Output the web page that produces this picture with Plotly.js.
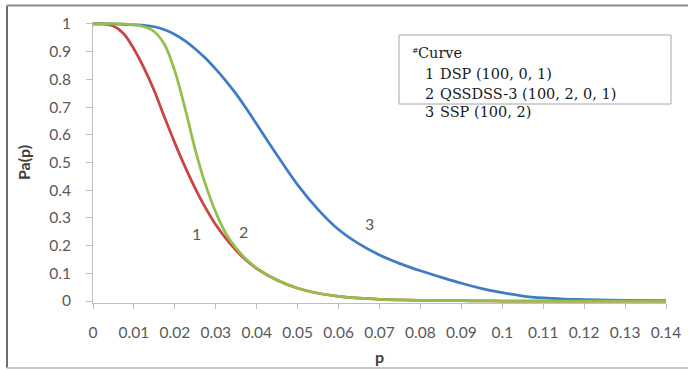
<!DOCTYPE html>
<html>
<head>
<meta charset="utf-8">
<script src="https://cdn.plot.ly/plotly-3.0.1.min.js"></script>
<style>
  html, body { margin: 0; padding: 0; background: #ffffff; }
  #chart { width: 688px; height: 371px; }
</style>
</head>
<body>
<div id="chart"></div>
<script>
// ---- data ----
var pValues = [0, 0.0025, 0.005, 0.0075, 0.01, 0.0125, 0.015, 0.0175, 0.02, 0.0225,
  0.025, 0.0275, 0.03, 0.0325, 0.035, 0.0375, 0.04, 0.045, 0.05, 0.055,
  0.06, 0.065, 0.07, 0.075, 0.08, 0.085, 0.09, 0.095, 0.1, 0.105,
  0.11, 0.115, 0.12, 0.13, 0.14];

// Curve 1: DSP (100, 0, 1)
var paDSP = [1, 1, 0.993, 0.965, 0.91, 0.84, 0.758, 0.662, 0.57, 0.484,
  0.406, 0.336, 0.275, 0.225, 0.182, 0.146, 0.117, 0.075, 0.046, 0.028,
  0.017, 0.01, 0.006, 0.004, 0.0025, 0.0015, 0.001, 0.0005, 0, 0,
  0, 0, 0, 0, 0];

// Curve 2: QSSDSS-3 (100, 2, 0, 1)
var paQSS = [1, 1, 1, 1, 0.998, 0.99, 0.972, 0.925, 0.83, 0.695,
  0.545, 0.42, 0.32, 0.243, 0.19, 0.15, 0.119, 0.076, 0.046, 0.028,
  0.017, 0.01, 0.006, 0.004, 0.0025, 0.0015, 0.001, 0.0005, 0, 0,
  0, 0, 0, 0, 0];

// Curve 3: SSP (100, 2)
var paSSP = [1, 1, 1, 0.999, 0.997, 0.995, 0.99, 0.979, 0.962, 0.939,
  0.91, 0.876, 0.837, 0.794, 0.747, 0.694, 0.638, 0.526, 0.419, 0.33,
  0.258, 0.206, 0.166, 0.135, 0.109, 0.086, 0.064, 0.045, 0.03, 0.018,
  0.011, 0.007, 0.005, 0.002, 0.001];

var xTickVals = [0, 0.01, 0.02, 0.03, 0.04, 0.05, 0.06, 0.07, 0.08, 0.09, 0.1, 0.11, 0.12, 0.13, 0.14];
var xTickText = ["0", "0.01", "0.02", "0.03", "0.04", "0.05", "0.06", "0.07", "0.08", "0.09", "0.1", "0.11", "0.12", "0.13", "0.14"];
var yTickVals = [0, 0.1, 0.2, 0.3, 0.4, 0.5, 0.6, 0.7, 0.8, 0.9, 1];
var yTickText = ["0", "0.1", "0.2", "0.3", "0.4", "0.5", "0.6", "0.7", "0.8", "0.9", "1"];

var curveNumbers = ["1", "2", "3"];
var curveLabels = ["DSP (100, 0, 1)", "QSSDSS-3 (100, 2, 0, 1)", "SSP (100, 2)"];
var legendHeader = "Curve";
// label positions on the chart (p, Pa)
var labelP = [0.0252, 0.0368, 0.0676];
var labelPa = [0.244, 0.25, 0.28];

// ---- layout helpers ----
var W = 688, H = 371;
var M = {l: 93, r: 22, t: 22, b: 68};
var plotW = W - M.l - M.r, plotH = H - M.t - M.b;
function px(x) { return (x - M.l) / plotW; }
function py(y) { return (M.t + plotH - y) / plotH; }

var RED = '#c94444', GREEN = '#93bf4b', BLUE = '#3f7cc4';
var GRAY_TXT = '#595959';

function curve(y, color, name) {
  return {
    x: pValues, y: y, type: 'scatter', mode: 'lines', name: name,
    line: {color: color, width: 2.75, shape: 'spline', smoothing: 1},
    hoverinfo: 'skip'
  };
}

var traces = [
  curve(paDSP, RED, curveLabels[0]),
  curve(paSSP, BLUE, curveLabels[2]),
  curve(paQSS, GREEN, curveLabels[1])
];

var annotations = [];
for (var i = 0; i < 3; i++) {
  annotations.push({
    x: labelP[i], y: labelPa[i], xref: 'x', yref: 'y', text: curveNumbers[i],
    showarrow: false, font: {family: 'Lato', size: 16, color: GRAY_TXT}
  });
}
var serif = {family: 'DejaVu Serif', size: 14.5, color: '#1a1a1a'};
annotations.push({x: px(410), y: py(50), xref: 'paper', yref: 'paper', xanchor: 'left', yanchor: 'middle',
  text: '#', showarrow: false, font: {family: 'DejaVu Serif', size: 8, color: '#1a1a1a'}});
annotations.push({x: px(416), y: py(53), xref: 'paper', yref: 'paper', xanchor: 'left', yanchor: 'middle',
  text: legendHeader, showarrow: false, font: serif});
var rowY = [73.5, 93.5, 112];
for (var j = 0; j < 3; j++) {
  annotations.push({x: px(423), y: py(rowY[j]), xref: 'paper', yref: 'paper', xanchor: 'left', yanchor: 'middle',
    text: curveNumbers[j], showarrow: false, font: serif});
  annotations.push({x: px(438), y: py(rowY[j]), xref: 'paper', yref: 'paper', xanchor: 'left', yanchor: 'middle',
    text: curveLabels[j], showarrow: false, font: serif});
}

var shapes = [
  // legend box
  {type: 'rect', xref: 'paper', yref: 'paper', x0: px(399), x1: px(671), y0: py(104), y1: py(35),
   line: {color: '#a6a6a6', width: 1}},
  // outer chart border
  {type: 'line', xref: 'paper', yref: 'paper', x0: px(7), x1: px(7), y0: py(368), y1: py(5.5),
   line: {color: '#6e6e6e', width: 2}},
  {type: 'line', xref: 'paper', yref: 'paper', x0: px(7), x1: px(700), y0: py(5.5), y1: py(5.5),
   line: {color: '#8c8c8c', width: 2}},
  {type: 'line', xref: 'paper', yref: 'paper', x0: px(7), x1: px(700), y0: py(368), y1: py(368),
   line: {color: '#c8c8c8', width: 2}}
];

var axisCommon = {
  showgrid: false, zeroline: false, showline: true, linecolor: '#bfbfbf', linewidth: 1,
  ticks: 'outside', ticklen: 5, tickcolor: '#bfbfbf', tickwidth: 1,
  tickfont: {family: 'Lato', size: 15.5, color: GRAY_TXT},
  tickmode: 'array', fixedrange: true
};

var layout = {
  width: W, height: H,
  margin: M,
  paper_bgcolor: '#ffffff', plot_bgcolor: '#ffffff',
  showlegend: false,
  xaxis: Object.assign({}, axisCommon, {
    range: [0, 0.14], tickvals: xTickVals, ticktext: xTickText,
    ticklabelstandoff: 10,
    title: {text: 'p', font: {family: 'Lato', size: 16, color: '#404040', weight: 'bold'}, standoff: 12}
  }),
  yaxis: Object.assign({}, axisCommon, {
    range: [-0.0072, 1.0072], tickvals: yTickVals, ticktext: yTickText,
    ticklen: 6, ticklabelstandoff: 12,
    title: {text: 'Pa(p)', font: {family: 'Lato', size: 16, color: '#404040', weight: 'bold'}, standoff: 14}
  }),
  annotations: annotations,
  shapes: shapes
};

Plotly.newPlot('chart', traces, layout, {displayModeBar: false, staticPlot: true});
</script>
</body>
</html>
